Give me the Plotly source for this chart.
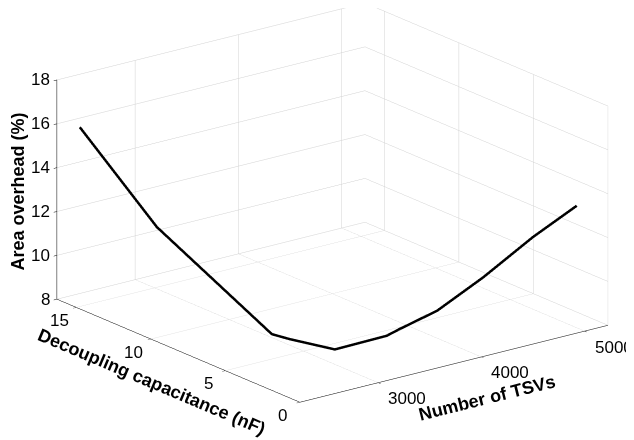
import math
import plotly.graph_objects as go

# Data (estimated)
tsv_count = [2250, 2350, 2675, 2760, 3010, 3365, 3465, 3760, 4145, 4585, 4980]
decap_nf = [14.82, 10.34, 4.88, 4.26, 2.97, 1.95, 1.76, 1.31, 0.90, 0.59, 0.39]
area_overhead = [16.26, 12.88, 9.19, 9.04, 8.65, 9.15, 9.40, 10.01, 11.19, 12.61, 13.63]

x_ticks = [3000, 4000, 5000]
y_ticks = [0, 5, 10, 15]
z_ticks = [8, 10, 12, 14, 16, 18]

x_range = [2242, 5226]
y_range = [0, 16.3]
z_range = [8, 18]

x_title = "Number of TSVs"
y_title = "Decoupling capacitance (nF)"
z_title = "Area overhead (%)"

fig = go.Figure()
fig.add_trace(go.Scatter3d(
    x=tsv_count, y=decap_nf, z=area_overhead,
    mode="lines",
    line=dict(color="black", width=5),
    showlegend=False,
    hoverinfo="skip",
))

font_family = "Liberation Sans, Arial, Helvetica, sans-serif"
tick_font = dict(family=font_family, size=17, color="black")
title_font = dict(family=font_family, size=18, color="black")

common = dict(
    showgrid=True, gridcolor="#d2d2d2", gridwidth=1,
    showline=True, linecolor="black", linewidth=1,
    zeroline=False, showbackground=False, showspikes=False,
    ticks="outside", ticklen=4, tickcolor="black",
    showticklabels=False, title=dict(text=""),
)

annotations = []
for v in z_ticks:
    annotations.append(dict(x=x_range[0], y=y_range[1], z=v, text=str(v),
                            showarrow=False, xanchor="right", yanchor="middle",
                            xshift=-5, yshift=0, font=tick_font))
for v in y_ticks:
    annotations.append(dict(x=x_range[0], y=v, z=z_range[0], text=str(v),
                            showarrow=False, xanchor="center", yanchor="middle",
                            xshift=-17, yshift=-13, font=tick_font))
for v in x_ticks:
    annotations.append(dict(x=v, y=y_range[0], z=z_range[0], text=str(v),
                            showarrow=False, xanchor="center", yanchor="middle",
                            xshift=29, yshift=-16, font=tick_font))

annotations.append(dict(x=(x_range[0] + x_range[1]) / 2, y=y_range[0], z=z_range[0],
                        text="<b>" + x_title + "</b>", showarrow=False,
                        xanchor="center", yanchor="middle", textangle=-14,
                        xshift=33, yshift=-34, font=title_font))
annotations.append(dict(x=x_range[0], y=(y_range[0] + y_range[1]) / 2, z=z_range[0],
                        text="<b>" + y_title + "</b>", showarrow=False,
                        xanchor="center", yanchor="middle", textangle=23,
                        xshift=-26.5, yshift=-31.5, font=title_font))
annotations.append(dict(x=x_range[0], y=y_range[1], z=(z_range[0] + z_range[1]) / 2,
                        text="<b>" + z_title + "</b>", showarrow=False,
                        xanchor="center", yanchor="middle", textangle=-90,
                        xshift=-38.5, yshift=-1.5, font=title_font))

# camera: azimuth ~37.5 deg, elevation ~19 deg, orthographic (MATLAB-like)
alpha = math.radians(37.5)
theta = math.radians(19.0)
direction = (-math.sin(alpha) * math.cos(theta), -math.cos(alpha) * math.cos(theta), math.sin(theta))
k = 1.5
cx, cy, cz = -0.0268, 0.0206, -0.122
eye = dict(x=cx + direction[0] * k, y=cy + direction[1] * k, z=cz + direction[2] * k)

fig.update_layout(
    width=634, height=440,
    paper_bgcolor="white",
    margin=dict(l=0, r=0, t=0, b=0),
    scene=dict(
        domain=dict(x=[0, 1.0], y=[0, 1.0]),
        xaxis=dict(range=x_range, tickvals=x_ticks, **common),
        yaxis=dict(range=y_range, tickvals=y_ticks, **common),
        zaxis=dict(range=z_range, tickvals=z_ticks, **common),
        aspectmode="manual",
        aspectratio=dict(x=1.765, y=1.814, z=1.054),
        camera=dict(projection=dict(type="orthographic"), eye=eye,
                    up=dict(x=0, y=0, z=1), center=dict(x=cx, y=cy, z=cz)),
        bgcolor="white",
        annotations=annotations,
    ),
)

fig.write_html("out.html")
